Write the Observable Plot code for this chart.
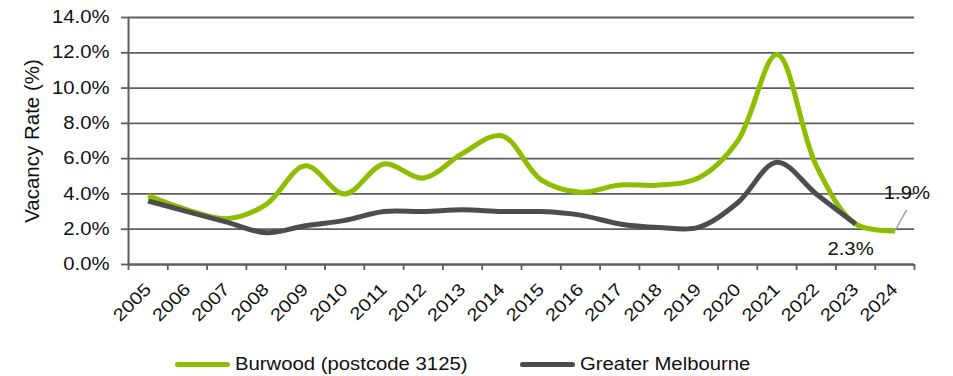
<!DOCTYPE html>
<html>
<head>
<meta charset="utf-8">
<script src="https://cdn.jsdelivr.net/npm/d3@7"></script>
<script src="https://cdn.jsdelivr.net/npm/@observablehq/plot@0.6"></script>
<style>
  html, body { margin: 0; padding: 0; background: #fff; }
  #chart { width: 953px; font-family: "Liberation Sans", Arial, sans-serif; }
  .legend { position: relative; height: 32px; font-size: 17.5px; color: #111; }
  .legend .item { position: absolute; top: 0; display: flex; align-items: center; height: 40px; }
  .legend .sw { width: 55px; height: 5px; border-radius: 3px; margin-right: 5px; }
  .legend .txt { display: inline-block; transform: scaleX(1.16); transform-origin: left center; white-space: nowrap; }
</style>
</head>
<body>
<div id="chart"></div>
<script>
// Annual vacancy rates (%)
const years = [2005, 2006, 2007, 2008, 2009, 2010, 2011, 2012, 2013, 2014,
               2015, 2016, 2017, 2018, 2019, 2020, 2021, 2022, 2023, 2024];
const burwood = [3.9, 3.1, 2.6, 3.4, 5.6, 4.0, 5.7, 4.9, 6.3, 7.3,
                 4.8, 4.1, 4.5, 4.5, 4.9, 7.0, 11.9, 5.6, 2.3, 1.9];
const greaterMelbourne = [3.6, 3.0, 2.4, 1.8, 2.2, 2.5, 3.0, 3.0, 3.1, 3.0,
                          3.0, 2.8, 2.3, 2.1, 2.1, 3.5, 5.8, 4.0, 2.3];
const seriesNames = ["Burwood (postcode 3125)", "Greater Melbourne"];
const seriesColors = ["#8dbf00", "#4d4d4f"];
const yTicks = [0, 2, 4, 6, 8, 10, 12, 14];

const rows = [
  ...burwood.map((v, i) => ({year: years[i], value: v, series: seriesNames[0]})),
  ...greaterMelbourne.map((v, i) => ({year: years[i], value: v, series: seriesNames[1]}))
];
const burwoodLast = rows.filter(d => d.series === seriesNames[0]).at(-1);
const melbLast = rows.filter(d => d.series === seriesNames[1]).at(-1);

// category boundaries between the yearly bands
const bounds = [...years.map(y => y - 0.5), years.at(-1) + 0.5];
const gridColor = "#5e5e5e";
const textWiden = 1.16;

const plot = Plot.plot({
  width: 953,
  height: 344,
  marginTop: 17,
  marginBottom: 80,
  marginLeft: 128,
  marginRight: 39,
  style: {fontFamily: "'Liberation Sans', Arial, sans-serif", fontSize: "17.5px", color: "#111", background: "#fff"},
  x: {type: "linear", domain: [bounds[0], bounds.at(-1)]},
  y: {domain: [0, 14]},
  color: {domain: seriesNames, range: seriesColors},
  marks: [
    Plot.gridY(yTicks, {stroke: gridColor, strokeOpacity: 1, strokeWidth: 1.8}),
    Plot.axisY(yTicks, {
      tickSize: 7, tickPadding: 12, stroke: gridColor, strokeWidth: 1.8,
      tickFormat: d => d.toFixed(1) + "%",
      label: null
    }),
    Plot.axisY({
      ticks: [], tickSize: 0, label: "Vacancy Rate (%)", labelAnchor: "center",
      labelArrow: "none", labelOffset: 104, fontSize: 20.5
    }),
    Plot.ruleX([bounds[0]], {stroke: gridColor, strokeWidth: 2}),
    Plot.ruleY([0], {stroke: gridColor, strokeWidth: 2}),
    Plot.axisX(bounds, {tickSize: 6, stroke: gridColor, strokeWidth: 1.8, tickFormat: () => "", label: null}),
    Plot.axisX(years, {tickSize: 0, tickPadding: 22, tickRotate: -45, tickFormat: d => String(d), label: null}),
    Plot.line(rows, {
      x: "year", y: "value", stroke: "series", z: "series",
      curve: "catmull-rom", strokeWidth: 5, strokeLinecap: "butt", strokeLinejoin: "round"
    }),
    // leader from the last Burwood point to its label
    Plot.link([burwoodLast], {
      x1: "year", y1: "value",
      x2: d => d.year + 0.3, y2: d => d.value + 1.2,
      stroke: "#a6a6a6", strokeWidth: 1.5
    }),
    Plot.text([burwoodLast], {
      x: "year", y: "value", text: d => d.value.toFixed(1) + "%",
      dx: 12, dy: -38, fill: "#111", fontSize: 17.5
    }),
    Plot.text([melbLast], {
      x: "year", y: "value", text: d => d.value.toFixed(1) + "%",
      dx: -5, dy: 25, fill: "#111", fontSize: 17.5
    })
  ]
});

const chart = document.getElementById("chart");
chart.appendChild(plot);

// widen the tick and value labels to the chart's broad letterforms
plot.querySelectorAll("text").forEach(t => {
  if (t.closest('[aria-label="y-axis label"]')) return;
  const parts = t.querySelectorAll("tspan");
  (parts.length ? [...parts] : [t]).forEach(el => {
    const w = el.getComputedTextLength();
    if (w > 0) {
      el.setAttribute("textLength", (w * textWiden).toFixed(2));
      el.setAttribute("lengthAdjust", "spacingAndGlyphs");
    }
  });
});

// line-swatch legend under the plot
const legend = document.createElement("div");
legend.className = "legend";
const legendLeft = [175, 520];
seriesNames.forEach((name, i) => {
  const item = document.createElement("div");
  item.className = "item";
  item.style.left = legendLeft[i] + "px";
  const sw = document.createElement("span");
  sw.className = "sw";
  sw.style.background = seriesColors[i];
  const label = document.createElement("span");
  label.className = "txt";
  label.textContent = name;
  item.append(sw, label);
  legend.appendChild(item);
});
chart.appendChild(legend);
</script>
</body>
</html>
